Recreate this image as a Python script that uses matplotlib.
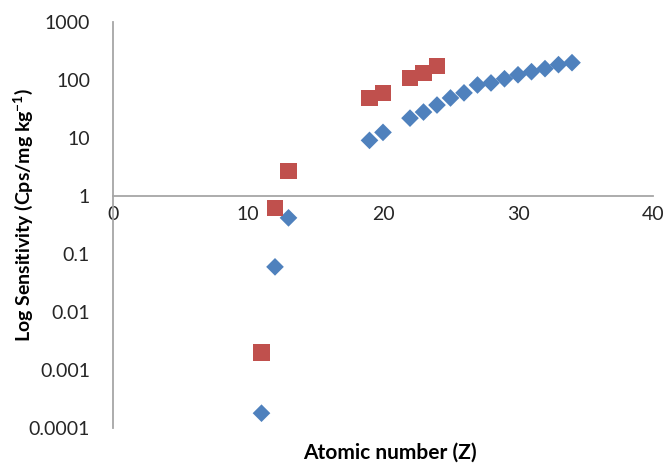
import matplotlib
matplotlib.use("Agg")
import matplotlib.pyplot as plt
from matplotlib.ticker import FixedLocator, FixedFormatter

plt.rcParams['font.family'] = ['Lato', 'DejaVu Sans']
plt.rcParams['mathtext.fontset'] = 'custom'
plt.rcParams['mathtext.rm'] = 'Lato'
plt.rcParams['mathtext.bf'] = 'Lato:bold'

# Data
blue_z = [11, 12, 13, 19, 20, 22, 23, 24, 25, 26, 27, 28, 29, 30, 31, 32, 33, 34]
blue_s = [0.00018, 0.06, 0.42, 9.1, 12.5, 22, 28, 37, 49, 60, 82, 89, 105, 123, 139, 157, 184, 199]
red_z = [11, 12, 13, 19, 20, 22, 23, 24]
red_s = [0.002, 0.62, 2.7, 49, 60, 108, 132, 174]

x_ticks = [0, 10, 20, 30, 40]
y_ticks = [0.0001, 0.001, 0.01, 0.1, 1, 10, 100, 1000]
y_tick_labels = ['0.0001', '0.001', '0.01', '0.1', '1', '10', '100', '1000']

fig = plt.figure(figsize=(6.68, 4.66), dpi=100)
ax = fig.add_axes([113/668, 1-428/466, (653-113)/668, (428-22)/466])

ax.scatter(blue_z, blue_s, marker='D', s=9.0**2, color='#4F81BD', edgecolors='none', zorder=3)
ax.scatter(red_z, red_s, marker='s', s=12.0**2, color='#C0504D', edgecolors='none', zorder=3)

ax.set_yscale('log')
ax.set_xlim(0, 40)
ax.set_ylim(0.0001, 1000)

ax.yaxis.set_major_locator(FixedLocator(y_ticks))
ax.yaxis.set_major_formatter(FixedFormatter(y_tick_labels))
ax.yaxis.set_minor_locator(FixedLocator([]))
ax.xaxis.set_major_locator(FixedLocator(x_ticks))
ax.set_xticklabels([str(t) for t in x_ticks])

for s in ['top', 'right']:
    ax.spines[s].set_visible(False)
ax.spines['bottom'].set_position(('data', 1))
ax.spines['left'].set_position(('data', 0))
for s in ['bottom', 'left']:
    ax.spines[s].set_color('#A6A6A6')
    ax.spines[s].set_linewidth(1.3)

ax.tick_params(axis='both', length=0, labelsize=14, colors='#262626')
ax.tick_params(axis='y', pad=16.5)
ax.tick_params(axis='x', pad=7)

fig.text(23/668, 1-215/466, r'Log Sensitivity (Cps/mg kg$^{\mathbf{-1}}$)', rotation=90,
         ha='center', va='center', fontsize=14, fontweight='bold', color='black')
fig.text(390/668, 1-453/466, 'Atomic number (Z)', ha='center', va='center',
         fontsize=15, fontweight='bold', color='black')

fig.savefig('out.png', dpi=100)
